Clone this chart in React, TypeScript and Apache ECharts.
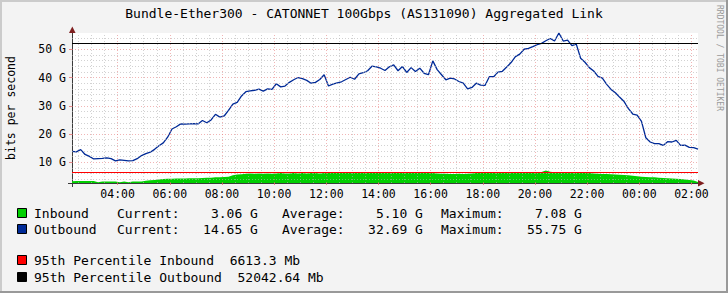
import React, { useEffect, useRef } from "react";
import * as echarts from "echarts";

// ---- axis ranges (hours since midnight of first day; G bits/s) ----
const X_MIN = 2.25; // 02:15
const X_MAX = 26.25; // 02:15 next day
const Y_MIN = 2.7;
const Y_MAX = 55.75;
const START_HOUR = 2.25;
const STEP_HOURS = 1 / 6; // 10-minute samples

const xTickHours = [4, 6, 8, 10, 12, 14, 16, 18, 20, 22, 24, 26];
const xTickLabels = ["04:00", "06:00", "08:00", "10:00", "12:00", "14:00", "16:00", "18:00", "20:00", "22:00", "00:00", "02:00"];
const yTickValues = [10, 20, 30, 40, 50];
const yTickLabels = ["10 G", "20 G", "30 G", "40 G", "50 G"];

// Inbound (G)
const inbound = [
  3.3, 3.4, 3.4, 3.4, 3.4, 3.4, 3.0, 3.2, 3.2, 3.2, 3.2, 3.0, 3.2, 3.0, 3.2, 3.2, 3.2, 3.5, 3.7, 3.8,
  3.9, 4.1, 4.2, 4.2, 4.3, 4.3, 4.3, 4.4, 4.4, 4.4, 4.5, 4.6, 4.6, 4.7, 4.7, 4.8, 4.9,
  5.4, 5.7, 5.8, 6.0, 6.1, 6.0, 6.1, 6.0, 6.1, 6.0, 6.1, 6.2, 6.1, 6.1, 6.2, 6.1, 6.2, 6.1, 6.2, 6.2,
  6.1, 6.2, 6.3, 6.2, 6.3, 6.2, 6.3, 6.3, 6.2, 6.3, 6.5, 6.6, 6.5, 6.6, 6.5, 6.6,
  6.5, 6.4, 6.5, 6.4, 6.5, 6.4, 6.4, 6.3, 6.4, 6.3, 6.2, 6.1, 6.0, 6.0, 5.9, 5.9, 6.0, 5.9, 6.0, 6.1,
  6.2, 6.3, 6.4, 6.4, 6.3, 6.4, 6.5, 6.4, 6.5, 6.5, 6.4, 6.5, 6.5, 6.4, 6.5, 6.6,
  7.08, 6.7, 6.5, 6.5, 6.4, 6.5, 6.4, 6.3, 6.4, 6.3, 6.2, 6.1, 6.0, 5.9, 5.9, 5.8, 5.7, 5.6, 5.5, 5.4,
  5.3, 5.1, 4.9, 4.8, 4.7, 4.7, 4.6, 4.5, 4.4, 4.3, 4.2, 4.1, 3.9, 3.8, 3.6, 3.06,
];

// Outbound (G)
const outbound = [
  13.9, 13.7, 14.5, 12.8, 12.1, 11.2, 11.3, 11.4, 11.6, 11.3, 10.5, 10.9, 10.7, 10.5, 10.6, 11.3, 12.4, 13.1, 13.6, 14.6,
  15.9, 16.9, 18.9, 21.8, 22.6, 23.6, 23.5, 23.6, 23.7, 23.6, 24.8, 24.0, 25.0, 27.0, 26.0, 26.4, 28.4,
  30.6, 31.2, 33.5, 35.0, 35.3, 35.5, 35.9, 35.2, 36.0, 35.8, 37.8, 36.7, 37.0, 38.3, 39.2, 40.0, 39.6, 39.0, 38.0, 38.3,
  39.3, 41.0, 37.0, 37.7, 38.1, 38.5, 39.3, 40.1, 39.4, 41.3, 41.7, 42.4, 44.0, 43.8, 43.3, 42.5,
  43.8, 44.5, 42.4, 43.9, 41.8, 43.5, 42.1, 43.3, 41.5, 41.0, 45.9, 42.8, 41.0, 39.2, 39.8, 39.5, 38.6, 38.0, 36.0, 36.5,
  38.0, 37.3, 37.2, 40.3, 40.3, 41.9, 42.2, 43.7, 45.3, 47.4, 48.3, 50.0, 50.3, 50.9, 51.6, 52.1,
  53.0, 53.8, 52.9, 55.75, 52.9, 53.2, 51.3, 51.8, 46.8, 45.4, 43.5, 42.3, 40.4, 39.8, 37.6, 35.8, 34.6, 33.0, 31.5, 29.0,
  27.1, 26.7, 24.5, 18.7, 17.2, 16.6, 16.6, 16.0, 17.3, 17.2, 17.8, 16.0, 16.1, 15.3, 15.2, 14.65,
];

const percentileInbound = 6.6133; // G
const percentileOutbound = 52.04264; // G

const legendRows = [
  { name: "Inbound", color: "#00CF00", cur: "Current:    3.06 G", avg: "Average:    5.10 G", max: "Maximum:    7.08 G" },
  { name: "Outbound", color: "#002A97", cur: "Current:   14.65 G", avg: "Average:   32.69 G", max: "Maximum:   55.75 G" },
];
const percentileRows = [
  { text: "95th Percentile Inbound  6613.3 Mb", color: "#FF0000" },
  { text: "95th Percentile Outbound  52042.64 Mb", color: "#000000" },
];

const FONT = "'DejaVu Sans Mono', 'Liberation Mono', monospace";
const MINOR = { color: "rgba(180,180,180,0.6)", type: [1, 2] as any, width: 1 };
const MAJOR = { color: "rgba(230,120,120,0.55)", type: [1, 2] as any, width: 1 };
const AXIS_COLOR = "#3a3a3a";

export default function App() {
  const ref = useRef<HTMLDivElement>(null);
  useEffect(() => {
    document.body.style.margin = "0";
    if (!ref.current) return;
    const chart = echarts.init(ref.current, undefined, { renderer: "svg" });

    const inData = inbound.map((v, i) => [START_HOUR + i * STEP_HOURS, v]);
    const outData = outbound.map((v, i) => [START_HOUR + i * STEP_HOURS, v]);

    const yMinor: number[] = [];
    for (let v = 4; v < Y_MAX; v += 2) if (v % 10 !== 0) yMinor.push(v);
    const xMinor: number[] = [];
    for (let h = 2.5; h < X_MAX; h += 0.5) if (h % 2 !== 0) xMinor.push(h);

    const graphics: any[] = [
      // frame shading
      { type: "rect", shape: { x: 0, y: 0, width: 728, height: 2 }, style: { fill: "#CBCBCB" }, silent: true },
      { type: "rect", shape: { x: 0, y: 0, width: 2, height: 293 }, style: { fill: "#CBCBCB" }, silent: true },
      { type: "rect", shape: { x: 0, y: 291, width: 728, height: 2 }, style: { fill: "#999999" }, silent: true },
      { type: "rect", shape: { x: 726, y: 0, width: 2, height: 293 }, style: { fill: "#999999" }, silent: true },
      {
        type: "text", x: 364, y: 13,
        style: { text: "Bundle-Ether300 - CATONNET 100Gbps (AS131090) Aggregated Link", fontFamily: FONT, fontSize: 13, fill: "#000", align: "center", verticalAlign: "middle" },
      },
      {
        type: "text", x: 11, y: 108, rotation: Math.PI / 2,
        style: { text: "bits per second", fontFamily: FONT, fontSize: 11.5, fill: "#000", align: "center", verticalAlign: "middle" },
      },
      {
        type: "text", x: 719, y: 58, rotation: -Math.PI / 2,
        style: { text: "RRDTOOL / TOBI OETIKER", fontFamily: FONT, fontSize: 8, fill: "#9A9A9A", align: "center", verticalAlign: "middle" },
      },
      // axis overhangs and arrows
      { type: "line", shape: { x1: 68, y1: 183.5, x2: 72, y2: 183.5 }, style: { stroke: AXIS_COLOR, lineWidth: 1 } },
      { type: "line", shape: { x1: 72.5, y1: 183, x2: 72.5, y2: 187 }, style: { stroke: AXIS_COLOR, lineWidth: 1 } },
      { type: "polygon", shape: { points: [[698, 180], [704.5, 183.3], [698, 186.6]] }, style: { fill: "#7F1F1F" }, z: 100 },
      { type: "polygon", shape: { points: [[69, 33], [72.3, 26.5], [75.6, 33]] }, style: { fill: "#7F1F1F" }, z: 100 },
    ];

    const rowY = [213, 229];
    legendRows.forEach((r, k) => {
      const y = rowY[k];
      graphics.push({ type: "rect", shape: { x: 17.5, y: y - 4.5, width: 9, height: 9 }, style: { fill: r.color, stroke: "#000", lineWidth: 1 } });
      graphics.push({ type: "text", x: 34, y, style: { text: r.name, fontFamily: FONT, fontSize: 13, fill: "#000", verticalAlign: "middle" } });
      graphics.push({ type: "text", x: 117, y, style: { text: r.cur, fontFamily: FONT, fontSize: 13, fill: "#000", verticalAlign: "middle" } });
      graphics.push({ type: "text", x: 282, y, style: { text: r.avg, fontFamily: FONT, fontSize: 13, fill: "#000", verticalAlign: "middle" } });
      graphics.push({ type: "text", x: 441, y, style: { text: r.max, fontFamily: FONT, fontSize: 13, fill: "#000", verticalAlign: "middle" } });
    });
    const pY = [260, 277];
    percentileRows.forEach((r, k) => {
      const y = pY[k];
      graphics.push({ type: "rect", shape: { x: 17.5, y: y - 4.5, width: 9, height: 9 }, style: { fill: r.color, stroke: "#000", lineWidth: 1 } });
      graphics.push({ type: "text", x: 34, y, style: { text: r.text, fontFamily: FONT, fontSize: 13, fill: "#000", verticalAlign: "middle" } });
    });

    const option: any = {
      animation: false,
      backgroundColor: "#F3F3F3",
      grid: { left: 72, top: 33, width: 626, height: 150, show: true, backgroundColor: "#FFFFFF", borderWidth: 0 },
      xAxis: {
        type: "value", min: X_MIN, max: X_MAX,
        axisLine: { show: true, onZero: false, lineStyle: { color: AXIS_COLOR, width: 1 } },
        axisTick: { show: true, customValues: xTickHours, length: 2, lineStyle: { color: "rgba(230,110,110,0.8)" } },
        axisLabel: {
          show: true, customValues: xTickHours, margin: 5,
          formatter: (v: number) => { const i = xTickHours.indexOf(v); return i >= 0 ? xTickLabels[i] : ""; },
          color: "#000", fontFamily: FONT, fontSize: 11.5,
        },
        splitLine: { show: false },
      },
      yAxis: {
        type: "value", min: Y_MIN, max: Y_MAX,
        axisLine: { show: true, onZero: false, lineStyle: { color: AXIS_COLOR, width: 1 } },
        axisTick: { show: true, customValues: yTickValues, length: 3, lineStyle: { color: "rgba(230,110,110,0.8)" } },
        axisLabel: {
          show: true, customValues: yTickValues, margin: 6,
          formatter: (v: number) => { const i = yTickValues.indexOf(v); return i >= 0 ? yTickLabels[i] : ""; },
          color: "#000", fontFamily: FONT, fontSize: 11.5,
        },
        splitLine: { show: false },
      },
      graphic: graphics,
      series: [
        {
          type: "line", z: 1, silent: true, showSymbol: false,
          data: [[X_MIN, Y_MIN], [X_MAX, Y_MIN]],
          lineStyle: { opacity: 0 },
          markLine: {
            silent: true, symbol: ["none", "none"], label: { show: false }, animation: false,
            data: [
              ...yMinor.map((v) => ({ yAxis: v, lineStyle: MINOR })),
              ...xMinor.map((h) => ({ xAxis: h, lineStyle: MINOR })),
              ...yTickValues.map((v) => ({ yAxis: v, lineStyle: MAJOR })),
              ...xTickHours.map((h) => ({ xAxis: h, lineStyle: MAJOR })),
            ],
          },
        },
        {
          name: "Inbound", type: "line", z: 2, data: inData, showSymbol: false, silent: true,
          lineStyle: { width: 0 }, areaStyle: { color: "#00CF00", opacity: 1 },
        },
        {
          name: "Outbound", type: "line", z: 3, data: outData, showSymbol: false, silent: true,
          lineStyle: { width: 1.3, color: "#002A97" },
          markLine: {
            silent: true, symbol: ["none", "none"], label: { show: false }, animation: false,
            data: [
              { yAxis: percentileInbound, lineStyle: { color: "#FF0000", type: "solid", width: 1 } },
              { yAxis: percentileOutbound, lineStyle: { color: "#000000", type: "solid", width: 1 } },
            ],
          },
        },
      ],
    };
    chart.setOption(option);
    return () => chart.dispose();
  }, []);
  return <div ref={ref} style={{ position: "fixed", left: 0, top: 0, width: 728, height: 293 }} />;
}
